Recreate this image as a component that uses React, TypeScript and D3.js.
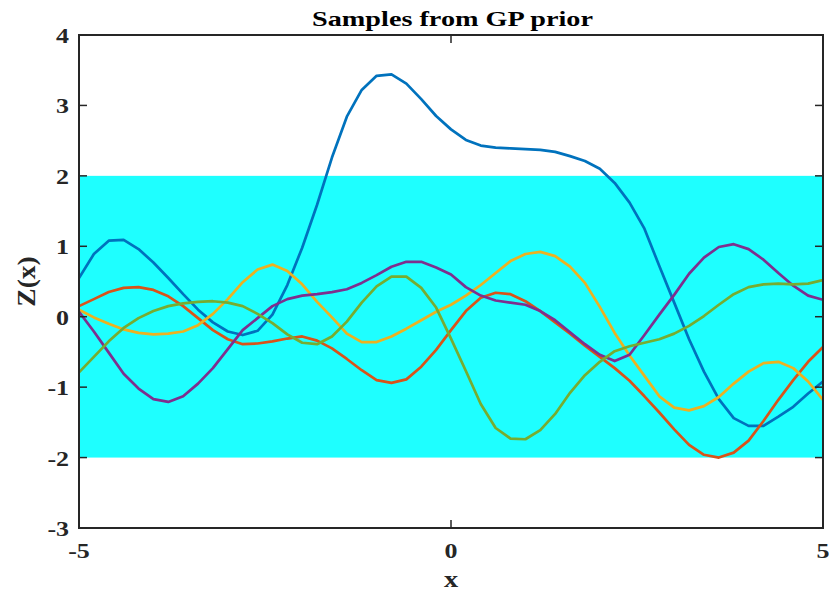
import React from "react";
import * as d3 from "d3";

const xs: number[] = d3.range(0, 51).map((i) => -5 + 0.2 * i);

const blue = [0.55, 0.89, 1.08, 1.09, 0.96, 0.77, 0.55, 0.32, 0.10, -0.08, -0.21, -0.26, -0.20, 0.03, 0.45, 0.98, 1.59, 2.26, 2.84, 3.22, 3.42, 3.44, 3.31, 3.09, 2.85, 2.66, 2.51, 2.43, 2.40, 2.39, 2.38, 2.37, 2.34, 2.28, 2.21, 2.10, 1.90, 1.62, 1.25, 0.72, 0.20, -0.32, -0.78, -1.17, -1.44, -1.55, -1.55, -1.42, -1.28, -1.09, -0.92];
const red = [0.15, 0.25, 0.35, 0.41, 0.42, 0.38, 0.29, 0.15, -0.02, -0.19, -0.32, -0.39, -0.38, -0.35, -0.31, -0.28, -0.34, -0.45, -0.60, -0.76, -0.90, -0.94, -0.89, -0.71, -0.47, -0.19, 0.08, 0.27, 0.34, 0.32, 0.22, 0.08, -0.08, -0.24, -0.41, -0.57, -0.73, -0.91, -1.13, -1.36, -1.60, -1.82, -1.96, -2.00, -1.93, -1.76, -1.48, -1.18, -0.90, -0.64, -0.43];
const yellow = [0.10, -0.01, -0.10, -0.18, -0.23, -0.25, -0.24, -0.21, -0.12, 0.04, 0.25, 0.49, 0.67, 0.74, 0.65, 0.46, 0.21, -0.01, -0.24, -0.36, -0.36, -0.28, -0.17, -0.05, 0.07, 0.17, 0.30, 0.45, 0.62, 0.79, 0.89, 0.92, 0.86, 0.71, 0.48, 0.14, -0.23, -0.55, -0.84, -1.13, -1.29, -1.33, -1.27, -1.14, -0.95, -0.78, -0.66, -0.64, -0.73, -0.92, -1.18];
const purple = [0.07, -0.21, -0.51, -0.81, -1.02, -1.17, -1.21, -1.13, -0.95, -0.73, -0.46, -0.19, -0.02, 0.15, 0.25, 0.30, 0.32, 0.35, 0.39, 0.48, 0.59, 0.71, 0.78, 0.78, 0.70, 0.60, 0.42, 0.30, 0.23, 0.20, 0.17, 0.08, -0.05, -0.22, -0.39, -0.54, -0.63, -0.54, -0.26, 0.03, 0.31, 0.61, 0.84, 0.99, 1.03, 0.96, 0.81, 0.62, 0.44, 0.30, 0.24];
const green = [-0.79, -0.57, -0.35, -0.16, -0.02, 0.08, 0.15, 0.19, 0.21, 0.22, 0.20, 0.15, 0.04, -0.09, -0.25, -0.37, -0.39, -0.28, -0.07, 0.20, 0.43, 0.57, 0.57, 0.41, 0.13, -0.31, -0.77, -1.24, -1.58, -1.73, -1.74, -1.61, -1.38, -1.08, -0.83, -0.64, -0.49, -0.42, -0.37, -0.32, -0.24, -0.13, 0.01, 0.17, 0.32, 0.42, 0.46, 0.47, 0.46, 0.47, 0.52];

const seriesValues = [blue, red, yellow, purple, green];
const seriesColors = ["#0072BD", "#D95319", "#EDB120", "#7E2F8E", "#77AC30"];

const bandLow = -2;
const bandHigh = 2;
const yTicks = [-3, -2, -1, 0, 1, 2, 3, 4];
const xTicks = [-5, 0, 5];
const titleText = "Samples from GP prior";
const xLabel = "x";
const yLabel = "Z(x)";

const W = 829;
const H = 594;
const M = { left: 79, right: 823, top: 35, bottom: 528 };
const FONT = "'Liberation Serif', 'Times New Roman', serif";
const AX = "#262626";
const SX = 1.18;

export default function App() {
  const x = d3.scaleLinear().domain([-5, 5]).range([M.left, M.right]);
  const y = d3.scaleLinear().domain([-3, 4]).range([M.bottom, M.top]);
  const line = d3
    .line<number>()
    .x((_, i) => x(xs[i]))
    .y((d) => y(d));
  const tl = 8;
  return (
    <svg
      width={W}
      height={H}
      style={{ position: "absolute", left: 0, top: 0, background: "#fff" }}
    >
      <defs>
        <clipPath id="plotclip">
          <rect x={M.left} y={M.top} width={M.right - M.left} height={M.bottom - M.top} />
        </clipPath>
      </defs>
      <rect
        x={x(-5)}
        y={y(bandHigh)}
        width={x(5) - x(-5)}
        height={y(bandLow) - y(bandHigh)}
        fill="rgb(30,255,255)"
      />
      <g clipPath="url(#plotclip)">
        {seriesValues.map((vals, k) => (
          <path
            key={k}
            d={line(vals) || ""}
            fill="none"
            stroke={seriesColors[k]}
            strokeWidth={2.7}
            strokeLinejoin="round"
          />
        ))}
      </g>
      <rect
        x={M.left}
        y={M.top}
        width={M.right - M.left}
        height={M.bottom - M.top}
        fill="none"
        stroke={AX}
        strokeWidth={2}
      />
      {yTicks.map((t) => (
        <g key={"y" + t}>
          <line x1={M.left} x2={M.left + tl} y1={y(t)} y2={y(t)} stroke={AX} strokeWidth={1.5} />
          <line x1={M.right} x2={M.right - tl} y1={y(t)} y2={y(t)} stroke={AX} strokeWidth={1.5} />
          <text
            transform={`translate(${M.left - 10},${y(t)}) scale(${SX},1)`}
            dy="0.36em"
            textAnchor="end"
            fontFamily={FONT}
            fontWeight="bold"
            fontSize={22}
            fill={AX}
          >
            {t}
          </text>
        </g>
      ))}
      {xTicks.map((t) => (
        <g key={"x" + t}>
          <line x1={x(t)} x2={x(t)} y1={M.bottom} y2={M.bottom - tl} stroke={AX} strokeWidth={1.5} />
          <line x1={x(t)} x2={x(t)} y1={M.top} y2={M.top + tl} stroke={AX} strokeWidth={1.5} />
          <text
            transform={`translate(${x(t)},${M.bottom + 30}) scale(${SX},1)`}
            textAnchor="middle"
            fontFamily={FONT}
            fontWeight="bold"
            fontSize={22}
            fill={AX}
          >
            {t}
          </text>
        </g>
      ))}
      <text
        x={452.5}
        y={26}
        textAnchor="middle"
        textLength={281}
        lengthAdjust="spacingAndGlyphs"
        fontFamily={FONT}
        fontWeight="bold"
        fontSize={22}
        fill="#000"
      >
        {titleText}
      </text>
      <text
        transform={`translate(${(M.left + M.right) / 2},587) scale(${SX},1)`}
        textAnchor="middle"
        fontFamily={FONT}
        fontWeight="bold"
        fontSize={24}
        fill={AX}
      >
        {xLabel}
      </text>
      <text
        transform={`translate(35,${(M.top + M.bottom) / 2}) rotate(-90) scale(1.1,1)`}
        textAnchor="middle"
        fontFamily={FONT}
        fontWeight="bold"
        fontSize={25}
        fill={AX}
      >
        {yLabel}
      </text>
    </svg>
  );
}
